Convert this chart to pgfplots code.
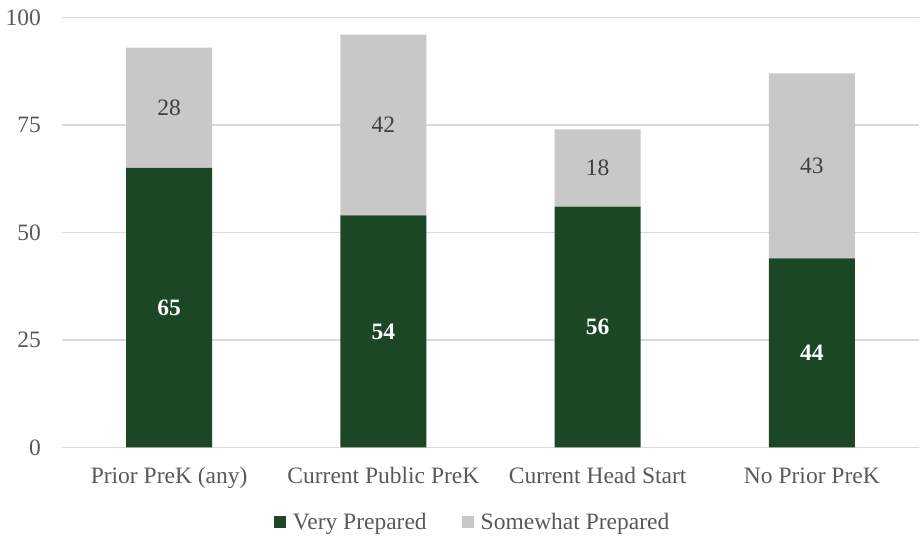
\documentclass[border=0pt]{standalone}
\usepackage{fontspec}
\setmainfont{Liberation Serif}
\usepackage{pgfplots}
\pgfplotsset{compat=1.18}

\definecolor{vgreen}{RGB}{28,71,36}
\definecolor{sgray}{RGB}{200,200,200}
\definecolor{gridgray}{RGB}{217,217,217}
\definecolor{labelgray}{RGB}{89,89,89}
\definecolor{valgray}{RGB}{64,64,64}
\newcommand\chartfont{\fontsize{23.5bp}{28bp}\selectfont}

\pgfplotsset{
    frame/.style={
        at={(62bp,92.5bp)}, anchor=south west,
        scale only axis,
        width=857bp, height=430bp,
        xmin=-0.5, xmax=3.5,
        ymin=0, ymax=100,
    },
}

\begin{document}
\begin{tikzpicture}
\useasboundingbox (0,0) rectangle (920bp,540bp);
\begin{axis}[
    frame,
    ybar stacked,
    bar width=86bp,
    xtick={0,1,2,3},
    xticklabels={Prior PreK (any), Current Public PreK, Current Head Start, No Prior PreK},
    ytick={0,25,50,75,100},
    /pgf/number format/assume math mode=true,
    ymajorgrids,
    grid style={draw=gridgray, line width=1.3bp},
    axis x line*=bottom,
    axis y line*=left,
    x axis line style={draw=gridgray, line width=1.3bp},
    y axis line style={draw=none},
    major tick length=0pt,
    tick label style={text=labelgray, font=\chartfont, inner sep=0pt},
    yticklabel style={anchor=east, xshift=-21bp},
    xticklabel style={anchor=base, yshift=-36bp},
    legend style={at={(0.478,-0.173)}, anchor=center, draw=none, fill=none,
        legend columns=2, font=\chartfont, text=labelgray,
        nodes={inner sep=0pt},
        /tikz/every odd column/.append style={column sep=7bp},
        /tikz/every even column/.append style={column sep=35bp}},
    legend image code/.code={\fill[#1] (0bp,-6bp) rectangle (12bp,6bp);},
]
\addplot[fill=vgreen, draw=none] coordinates {(0,65) (1,54) (2,56) (3,44)};
\addplot[fill=sgray, draw=none] coordinates {(0,28) (1,42) (2,18) (3,43)};
\legend{Very Prepared, Somewhat Prepared}
\end{axis}

% value labels, centred in each segment
\begin{axis}[
    frame,
    hide axis,
    nodes near coords,
    point meta=explicit symbolic,
]
\addplot[draw=none, mark=none,
    nodes near coords style={anchor=center, font=\chartfont\bfseries, text=white}]
    coordinates {(0,32.5)[65] (1,27)[54] (2,28)[56] (3,22)[44]};
\addplot[draw=none, mark=none,
    nodes near coords style={anchor=center, font=\chartfont, text=valgray}]
    coordinates {(0,79)[28] (1,75)[42] (2,65)[18] (3,65.5)[43]};
\end{axis}
\end{tikzpicture}
\end{document}
